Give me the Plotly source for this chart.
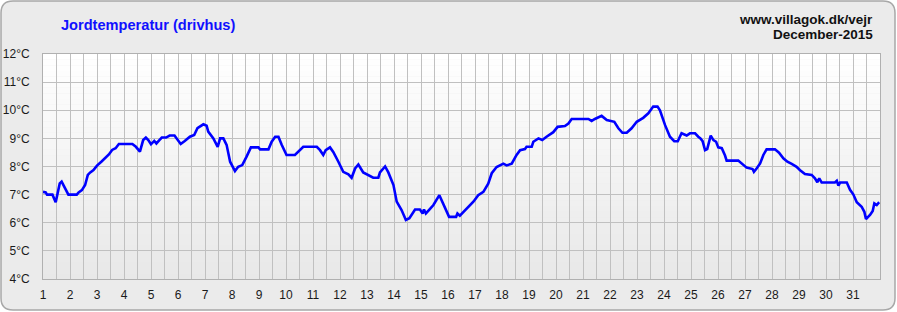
import plotly.graph_objects as go

days = [1.00, 1.10, 1.15, 1.35, 1.47, 1.55, 1.62, 1.69, 1.78, 1.86, 1.94, 2.25, 2.32, 2.44, 2.56, 2.66, 2.75, 2.87,
        3.00, 3.16, 3.28, 3.44, 3.56, 3.69, 3.81, 4.31, 4.44, 4.59, 4.71, 4.81, 4.90, 5.00, 5.12, 5.20, 5.31, 5.40,
        5.56, 5.69, 5.87, 5.95, 6.10, 6.25, 6.44, 6.60, 6.72, 6.94, 7.06, 7.12, 7.31, 7.47, 7.56, 7.68, 7.80, 7.93,
        8.11, 8.23, 8.38, 8.54, 8.70, 8.98, 9.04, 9.35, 9.47, 9.60, 9.72, 9.84, 10.02, 10.33, 10.52, 10.64, 11.14,
        11.26, 11.38, 11.47, 11.63, 11.75, 11.94, 12.12, 12.31, 12.43, 12.56, 12.68, 12.86, 13.05, 13.23, 13.42,
        13.48, 13.67, 13.79, 13.98, 14.10, 14.28, 14.44, 14.57, 14.78, 14.96, 15.06, 15.11, 15.18, 15.31, 15.46,
        15.68, 15.89, 16.04, 16.30, 16.35, 16.44, 16.63, 16.81, 16.94, 17.12, 17.31, 17.49, 17.62, 17.80, 18.05,
        18.17, 18.36, 18.54, 18.67, 18.85, 18.91, 19.10, 19.16, 19.35, 19.49, 19.65, 19.78, 19.90, 20.06, 20.33,
        20.46, 20.58, 21.20, 21.32, 21.44, 21.69, 21.88, 22.16, 22.31, 22.46, 22.62, 22.80, 22.99, 23.23, 23.42,
        23.60, 23.76, 23.85, 24.04, 24.22, 24.38, 24.51, 24.65, 24.84, 24.96, 25.15, 25.27, 25.35, 25.43, 25.52,
        25.60, 25.73, 25.83, 25.93, 26.01, 26.14, 26.26, 26.32, 26.75, 26.88, 27.06, 27.28, 27.33, 27.43, 27.56,
        27.68, 27.80, 28.11, 28.26, 28.42, 28.57, 28.73, 28.91, 29.04, 29.22, 29.47, 29.59, 29.68, 29.75, 29.84,
        30.33, 30.40, 30.46, 30.52, 30.77, 30.89, 31.01, 31.14, 31.32, 31.42, 31.48, 31.63, 31.73, 31.79, 31.88,
        31.97]
temps = [7.10, 7.08, 7.00, 7.00, 6.73, 7.10, 7.40, 7.46, 7.30, 7.15, 7.00, 7.00, 7.08, 7.16, 7.34, 7.70, 7.79, 7.87,
         8.03, 8.17, 8.29, 8.43, 8.59, 8.65, 8.80, 8.80, 8.70, 8.53, 8.94, 9.03, 8.94, 8.79, 8.91, 8.82, 8.94, 9.03,
         9.03, 9.10, 9.10, 9.00, 8.80, 8.91, 9.06, 9.12, 9.36, 9.50, 9.45, 9.24, 9.00, 8.70, 9.00, 9.00, 8.77, 8.17,
         7.84, 7.99, 8.05, 8.35, 8.68, 8.68, 8.61, 8.61, 8.88, 9.06, 9.06, 8.77, 8.41, 8.41, 8.61, 8.70, 8.70,
         8.58, 8.41, 8.58, 8.68, 8.52, 8.17, 7.81, 7.72, 7.60, 7.93, 8.07, 7.79, 7.70, 7.60, 7.60,
         7.79, 8.00, 7.79, 7.34, 6.75, 6.45, 6.10, 6.16, 6.47, 6.47, 6.33, 6.47, 6.33, 6.47, 6.63,
         6.98, 6.51, 6.21, 6.21, 6.33, 6.25, 6.45, 6.63, 6.75, 6.98, 7.10, 7.39, 7.76, 7.98, 8.10,
         8.04, 8.10, 8.41, 8.58, 8.62, 8.70, 8.70, 8.88, 9.00, 8.94, 9.06, 9.14, 9.22, 9.41, 9.44,
         9.53, 9.69, 9.69, 9.62, 9.69, 9.80, 9.65, 9.59, 9.36, 9.20, 9.20, 9.36, 9.59, 9.73, 9.89,
         10.13, 10.13, 10.00, 9.47, 9.06, 8.90, 8.90, 9.18, 9.10, 9.18, 9.18, 9.06, 9.00, 8.90, 8.58,
         8.62, 9.10, 8.94, 8.88, 8.68, 8.65, 8.39, 8.21, 8.21, 8.09, 7.96, 7.91, 7.81, 7.93, 8.11,
         8.41, 8.61, 8.61, 8.49, 8.29, 8.17, 8.09, 7.99, 7.87, 7.73, 7.70, 7.58, 7.44, 7.58, 7.43,
         7.43, 7.49, 7.32, 7.43, 7.43, 7.17, 7.01, 6.73, 6.57, 6.39, 6.13, 6.28, 6.42, 6.69, 6.63,
         6.73]

day_ticks = list(range(1, 32))
temp_ticks = list(range(4, 13))
temp_labels = [f"{t}°C" for t in temp_ticks]

title_text = "Jordtemperatur (drivhus)"
site_text = "www.villagok.dk/vejr"
month_text = "December-2015"

W, H = 897, 312
ML, MR, MT, MB = 43, 17, 54, 33

fig = go.Figure()
fig.add_trace(go.Scatter(x=days, y=temps, mode="lines",
                         line=dict(color="#0000ff", width=2.6), hoverinfo="skip"))

shapes = []
# rounded outer panel (pixel coords relative to plot bottom-left)
x0, x1 = 1 - ML, (W - 2) - ML
ytop, ybot = (H - MB) - 1, (H - MB) - (H - 2)
r = 12
path = (f"M {x0+r},{ytop} L {x1-r},{ytop} Q {x1},{ytop} {x1},{ytop-r} "
        f"L {x1},{ybot+r} Q {x1},{ybot} {x1-r},{ybot} L {x0+r},{ybot} "
        f"Q {x0},{ybot} {x0},{ybot+r} L {x0},{ytop-r} Q {x0},{ytop} {x0+r},{ytop} Z")
shapes.append(dict(type="path", xref="paper", yref="paper", xsizemode="pixel", ysizemode="pixel",
                   xanchor=0, yanchor=0, path=path, fillcolor="#ebebeb",
                   line=dict(color="#a8a8a8", width=1.5), layer="below"))
# gradient plot background
n = 40
for i in range(n):
    f = i / (n - 1)
    c = int(round(232 + (255 - 232) * f))
    shapes.append(dict(type="rect", xref="paper", yref="paper", x0=0, x1=1,
                       y0=i / n, y1=(i + 1) / n, fillcolor=f"rgb({c},{c},{c})",
                       line=dict(width=0), layer="below"))

fig.update_layout(
    width=W, height=H,
    margin=dict(l=ML, r=MR, t=MT, b=MB, autoexpand=False),
    paper_bgcolor="white",
    plot_bgcolor="rgba(0,0,0,0)",
    showlegend=False,
    font=dict(family="Liberation Sans, Arial, sans-serif", size=12, color="#1a1a1a"),
    shapes=shapes,
    xaxis=dict(range=[1, 32], tickmode="array", tickvals=day_ticks, ticktext=[str(d) for d in day_ticks],
               showgrid=True, gridcolor="#c0c0c0", gridwidth=1,
               minor=dict(dtick=0.5, tick0=1, showgrid=True, gridcolor="#c0c0c0", gridwidth=1),
               showline=True, linecolor="#b0b0b0", mirror=True, zeroline=False,
               ticks="outside", ticklen=5, tickcolor="rgba(0,0,0,0)", automargin=False,
               tickfont=dict(size=12, color="#1a1a1a"), fixedrange=True),
    yaxis=dict(range=[4, 12], tickmode="array", tickvals=temp_ticks, ticktext=temp_labels,
               showgrid=True, gridcolor="#c0c0c0", gridwidth=1,
               showline=True, linecolor="#b0b0b0", mirror=True, zeroline=False,
               ticks="outside", ticklen=10, tickcolor="rgba(0,0,0,0)", automargin=False,
               tickfont=dict(size=12, color="#1a1a1a"), fixedrange=True),
    annotations=[
        dict(text=f"<b>{title_text}</b>", xref="paper", yref="paper", x=(59 - ML) / (W - ML - MR),
             y=1, yshift=29, xanchor="left", yanchor="middle", showarrow=False,
             font=dict(size=14.6, color="#1010ff")),
        dict(text=f"<b>{site_text}</b>", xref="paper", yref="paper", x=1, xshift=-5,
             y=1, yshift=35, xanchor="right", yanchor="middle", showarrow=False,
             font=dict(size=13.5, color="#111111")),
        dict(text=f"<b>{month_text}</b>", xref="paper", yref="paper", x=1, xshift=-5,
             y=1, yshift=20, xanchor="right", yanchor="middle", showarrow=False,
             font=dict(size=13.5, color="#111111")),
    ],
)

fig.write_html("out.html")
